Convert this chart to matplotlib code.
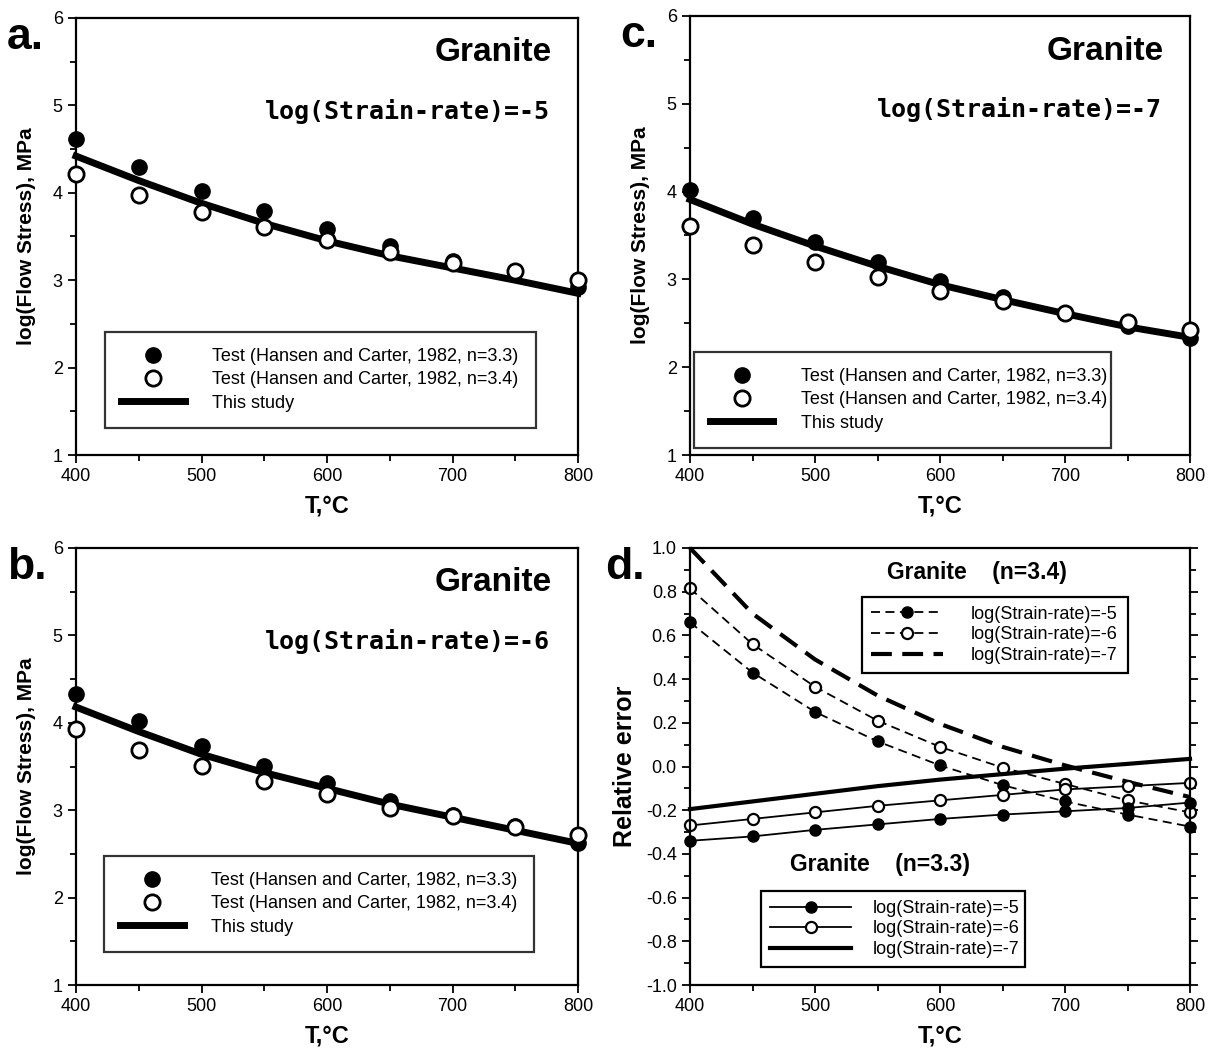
import numpy as np
import matplotlib
matplotlib.use("Agg")
import matplotlib.pyplot as plt
from matplotlib.ticker import MultipleLocator

plt.rcParams['font.family'] = ['Liberation Sans', 'DejaVu Sans']

# temperatures (°C)
T = [400, 450, 500, 550, 600, 650, 700, 750, 800]

# log(flow stress), panels a-c
a_n33 = [4.61, 4.30, 4.02, 3.79, 3.59, 3.39, 3.22, 3.11, 2.92]
a_n34 = [4.21, 3.98, 3.78, 3.61, 3.46, 3.32, 3.20, 3.10, 3.00]
a_model = [4.42, 4.14, 3.88, 3.65, 3.45, 3.28, 3.14, 3.00, 2.85]

b_n33 = [4.33, 4.02, 3.74, 3.51, 3.31, 3.11, 2.95, 2.82, 2.63]
b_n34 = [3.93, 3.69, 3.51, 3.33, 3.18, 3.03, 2.93, 2.81, 2.72]
b_model = [4.18, 3.90, 3.64, 3.43, 3.25, 3.07, 2.92, 2.77, 2.62]

c_n33 = [4.02, 3.70, 3.43, 3.20, 2.98, 2.80, 2.62, 2.47, 2.33]
c_n34 = [3.61, 3.39, 3.20, 3.03, 2.87, 2.75, 2.62, 2.52, 2.42]
c_model = [3.91, 3.63, 3.38, 3.15, 2.94, 2.77, 2.61, 2.46, 2.34]

# relative error, panel d
e34_5 = [0.66, 0.43, 0.25, 0.115, 0.005, -0.085, -0.16, -0.22, -0.275]
e34_6 = [0.815, 0.56, 0.365, 0.21, 0.09, -0.005, -0.08, -0.155, -0.21]
e34_7 = [1.0, 0.70, 0.49, 0.325, 0.195, 0.09, 0.005, -0.07, -0.14]
e33_5 = [-0.34, -0.32, -0.29, -0.265, -0.24, -0.22, -0.205, -0.19, -0.165]
e33_6 = [-0.27, -0.24, -0.21, -0.18, -0.155, -0.13, -0.105, -0.09, -0.075]
e33_7 = [-0.195, -0.16, -0.125, -0.09, -0.06, -0.035, -0.01, 0.012, 0.035]

lab33 = "Test (Hansen and Carter, 1982, n=3.3)"
lab34 = "Test (Hansen and Carter, 1982, n=3.4)"
rates = ["log(Strain-rate)=-5", "log(Strain-rate)=-6", "log(Strain-rate)=-7"]

W, H = 1216, 1050
fig = plt.figure(figsize=(W / 100, H / 100), dpi=100)


def box(x0, x1, ytop, ybot):
    return [x0 / W, 1 - ybot / H, (x1 - x0) / W, (ybot - ytop) / H]


def style_axes(ax):
    for s in ax.spines.values():
        s.set_linewidth(1.6)
    ax.tick_params(which='both', direction='out', width=1.3, labelsize=13)
    ax.tick_params(which='major', length=6)
    ax.tick_params(which='minor', length=4)
    ax.set_xlim(400, 800)
    ax.xaxis.set_major_locator(MultipleLocator(100))
    ax.xaxis.set_minor_locator(MultipleLocator(50))
    ax.set_xlabel("T,°C", fontsize=17, fontweight='bold', labelpad=7)


def panel_letter(rect, letter, xpix):
    fig.text(xpix / W, rect[1] + rect[3] + 0.001, letter, fontsize=32,
             fontweight='bold', ha='left', va='top')


def stress_panel(rect, letter, xpix, rate, n33, n34, model, leg_box):
    ax = fig.add_axes(rect)
    style_axes(ax)
    ax.set_ylim(1, 6)
    ax.yaxis.set_major_locator(MultipleLocator(1))
    ax.yaxis.set_minor_locator(MultipleLocator(0.5))
    ax.set_ylabel("log(Flow Stress), MPa", fontsize=15, fontweight='bold', labelpad=12)
    ax.plot(T, model, color='black', lw=5, label="This study", zorder=2, clip_on=False)
    ax.plot(T, n33, 'o', ms=11, mfc='black', mec='black', lw=0, label=lab33, zorder=3, clip_on=False)
    ax.plot(T, n34, 'o', ms=11, mfc='white', mec='black', mew=2, lw=0, label=lab34, zorder=4, clip_on=False)
    ax.text(0.948, 0.92, "Granite", transform=ax.transAxes, ha='right', va='center',
            fontsize=24, fontweight='bold')
    ax.text(0.944, 0.787, rate, transform=ax.transAxes, ha='right', va='center',
            fontsize=18, fontweight='bold', family='DejaVu Sans Mono')
    h, l = ax.get_legend_handles_labels()
    order = [1, 2, 0]
    leg = ax.legend([h[i] for i in order], [l[i] for i in order], loc='lower left',
                    bbox_to_anchor=leg_box, mode='expand', fontsize=13, frameon=True,
                    fancybox=False, edgecolor='black', handlelength=3.5, handletextpad=1.5,
                    borderpad=0.9, labelspacing=0.35, borderaxespad=0)
    leg.get_frame().set_linewidth(1.6)
    panel_letter(rect, letter, xpix)
    return ax


stress_panel(box(76, 578, 18, 455), "a.", 7, rates[0], a_n33, a_n34, a_model,
             (0.058, 0.062, 0.858, 0.222))
stress_panel(box(690, 1190, 16, 455), "c.", 620, rates[2], c_n33, c_n34, c_model,
             (0.008, 0.016, 0.834, 0.215))
stress_panel(box(76, 578, 548, 985), "b.", 7, rates[1], b_n33, b_n34, b_model,
             (0.056, 0.076, 0.856, 0.217))

# panel d
rect = box(690, 1190, 548, 985)
ax = fig.add_axes(rect)
style_axes(ax)
ax.set_ylim(-1, 1)
ax.yaxis.set_major_locator(MultipleLocator(0.2))
ax.yaxis.set_minor_locator(MultipleLocator(0.1))
ax.yaxis.set_major_formatter(matplotlib.ticker.FormatStrFormatter('%.1f'))
ax.tick_params(which='both', right=True)
ax.set_ylabel("Relative error", fontsize=18, fontweight='bold', labelpad=6)

dash = (0, (5, 3))
l1, = ax.plot(T, e34_5, color='black', ls=dash, lw=1.3, marker='o', ms=8, mfc='black', clip_on=False)
l2, = ax.plot(T, e34_6, color='black', ls=dash, lw=1.3, marker='o', ms=8, mfc='white', mew=1.6, clip_on=False)
l3, = ax.plot(T, e34_7, color='black', ls=(0, (5, 2.5)), lw=3, clip_on=False)
s1, = ax.plot(T, e33_5, color='black', lw=1.3, marker='o', ms=8, mfc='black', clip_on=False)
s2, = ax.plot(T, e33_6, color='black', lw=1.3, marker='o', ms=8, mfc='white', mew=1.6, clip_on=False)
s3, = ax.plot(T, e33_7, color='black', lw=3, clip_on=False)

leg1 = ax.legend([l1, l2, l3], rates, loc='lower left', bbox_to_anchor=(0.344, 0.714, 0.532, 0.181),
                 mode='expand', fontsize=13, fancybox=False, edgecolor='black', handlelength=4,
                 handletextpad=1.5, borderpad=0.5, labelspacing=0.2, borderaxespad=0, framealpha=1)
leg1.get_frame().set_linewidth(1.6)
ax.add_artist(leg1)
leg2 = ax.legend([s1, s2, s3], rates, loc='lower left', bbox_to_anchor=(0.142, 0.041, 0.528, 0.181),
                 mode='expand', fontsize=13, fancybox=False, edgecolor='black', handlelength=4.5,
                 handletextpad=1.2, borderpad=0.5, labelspacing=0.2, borderaxespad=0, framealpha=1)
leg2.get_frame().set_linewidth(1.6)

ax.text(0.574, 0.943, "Granite    (n=3.4)", transform=ax.transAxes, ha='center', va='center',
        fontsize=16.5, fontweight='bold')
ax.text(0.38, 0.275, "Granite    (n=3.3)", transform=ax.transAxes, ha='center', va='center',
        fontsize=16.5, fontweight='bold')
panel_letter(rect, "d.", 605)

fig.savefig("out.png", dpi=100)
